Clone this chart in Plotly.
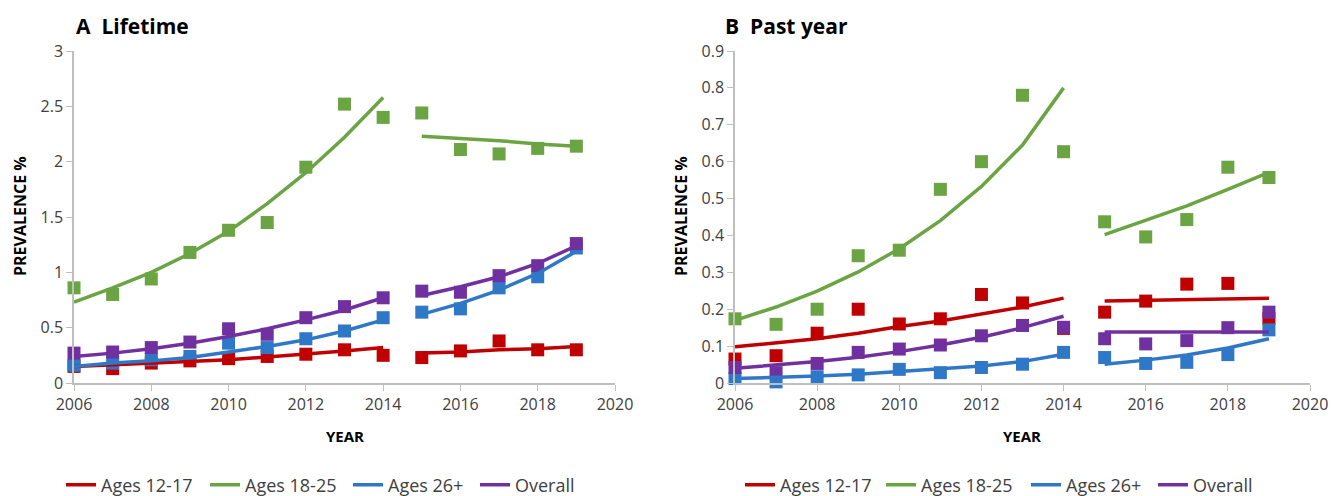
import plotly.graph_objects as go

years = list(range(2006, 2020))
series_names = ["Ages 12-17", "Ages 18-25", "Ages 26+", "Overall"]
colors = ["#C00000", "#6AA443", "#2F78C8", "#7030A0"]

# Panel A: Lifetime prevalence (observed points)
a_12_17 = [0.15, 0.13, 0.18, 0.20, 0.22, 0.24, 0.26, 0.30, 0.25, 0.23, 0.29, 0.38, 0.30, 0.30]
a_18_25 = [0.86, 0.80, 0.94, 1.18, 1.38, 1.45, 1.95, 2.52, 2.40, 2.44, 2.11, 2.07, 2.12, 2.14]
a_26p = [0.16, 0.18, 0.21, 0.24, 0.36, 0.32, 0.40, 0.47, 0.59, 0.64, 0.67, 0.86, 0.96, 1.22]
a_all = [0.27, 0.28, 0.32, 0.37, 0.49, 0.44, 0.59, 0.69, 0.77, 0.83, 0.82, 0.97, 1.06, 1.26]
# Panel A trend lines
a_12_17_t = [0.15, 0.165, 0.18, 0.195, 0.21, 0.235, 0.26, 0.29, 0.32, 0.27, 0.28, 0.30, 0.31, 0.33]
a_18_25_t = [0.73, 0.86, 1.00, 1.17, 1.37, 1.62, 1.90, 2.22, 2.58, 2.23, 2.21, 2.19, 2.16, 2.14]
a_26p_t = [0.15, 0.18, 0.20, 0.23, 0.28, 0.33, 0.39, 0.47, 0.57, 0.62, 0.72, 0.84, 0.99, 1.19]
a_all_t = [0.24, 0.27, 0.31, 0.36, 0.42, 0.49, 0.57, 0.66, 0.77, 0.79, 0.87, 0.96, 1.08, 1.24]

# Panel B: Past year prevalence (observed points)
b_12_17 = [0.065, 0.074, 0.135, 0.20, 0.16, 0.174, 0.24, 0.217, 0.148, 0.192, 0.222, 0.268, 0.27, 0.175]
b_18_25 = [0.174, 0.159, 0.20, 0.345, 0.36, 0.525, 0.60, 0.78, 0.627, 0.437, 0.396, 0.443, 0.585, 0.557]
b_26p = [0.012, 0.003, 0.017, 0.022, 0.037, 0.028, 0.042, 0.051, 0.083, 0.069, 0.053, 0.056, 0.077, 0.144]
b_all = [0.042, 0.028, 0.053, 0.083, 0.092, 0.103, 0.128, 0.156, 0.151, 0.12, 0.106, 0.115, 0.15, 0.192]
# Panel B trend lines
b_12_17_t = [0.098, 0.11, 0.12, 0.135, 0.153, 0.168, 0.186, 0.206, 0.23, 0.222, 0.224, 0.226, 0.228, 0.23]
b_18_25_t = [0.17, 0.206, 0.249, 0.301, 0.364, 0.44, 0.533, 0.645, 0.80, 0.402, 0.44, 0.48, 0.525, 0.571]
b_26p_t = [0.012, 0.015, 0.019, 0.024, 0.031, 0.038, 0.046, 0.058, 0.078, 0.051, 0.062, 0.076, 0.095, 0.12]
b_all_t = [0.040, 0.048, 0.058, 0.070, 0.085, 0.103, 0.124, 0.150, 0.181, 0.138, 0.138, 0.138, 0.138, 0.138]

panel_titles = ["A  Lifetime", "B  Past year"]
y_title = "PREVALENCE %"
x_title = "YEAR"

# the page body margin is removed by a small post script, so the figure fills the window
W, H = 1331, 496

def px(x):
    return x / W

def py(y):
    return 1 - y / H

fig = go.Figure()

def gap(v):
    return v[:9] + [None] + v[9:]

# legend slot start (line start, window px) for each series in each panel
leg_x_a = [68, 212, 355, 482]
leg_x_b = [747, 888, 1033, 1160]

panels = [
    ("x", "y", [a_12_17, a_18_25, a_26p, a_all], [a_12_17_t, a_18_25_t, a_26p_t, a_all_t], leg_x_a, 1),
    ("x2", "y2", [b_12_17, b_18_25, b_26p, b_all], [b_12_17_t, b_18_25_t, b_26p_t, b_all_t], leg_x_b, 5),
]

leg_font = dict(family="Open Sans", size=18, color="#404040")
leg_y = py(485)
legends = {}
for xa, ya, pts, trends, legx, lstart in panels:
    for name, col, p in zip(series_names, colors, pts):
        fig.add_trace(go.Scatter(
            x=years, y=p, mode="markers", xaxis=xa, yaxis=ya,
            marker=dict(symbol="square", size=13, color=col),
            showlegend=False, cliponaxis=False, hoverinfo="skip"))
    for i, (name, col, t) in enumerate(zip(series_names, colors, trends)):
        lid = "legend" if lstart + i == 1 else "legend%d" % (lstart + i)
        fig.add_trace(go.Scatter(
            x=gap(years), y=gap(t), mode="lines", xaxis=xa, yaxis=ya,
            line=dict(color=col, width=3.5), connectgaps=False,
            name=name, legend=lid, showlegend=True))
        legends[lid] = dict(orientation="h", x=px(legx[i] - 7), xanchor="left", y=leg_y,
                            yanchor="middle", font=leg_font, itemwidth=30,
                            bgcolor="rgba(0,0,0,0)")

tick_font = dict(family="Open Sans", size=16, color="#404040")
axis_common = dict(showline=True, linecolor="#BFBFBF", linewidth=1.5, ticks="outside",
                   tickcolor="#BFBFBF", ticklen=6, showgrid=False, zeroline=False,
                   tickfont=tick_font, automargin=False)

ydom = [py(383), py(51)]
fig.update_layout(
    width=W, height=H,
    margin=dict(l=0, r=0, t=0, b=0, autoexpand=False),
    paper_bgcolor="white", plot_bgcolor="white",
    xaxis=dict(domain=[px(74), px(615)], range=[2006, 2020], dtick=2, anchor="y", **axis_common),
    yaxis=dict(domain=ydom, range=[0, 3], dtick=0.5, anchor="x", **axis_common),
    xaxis2=dict(domain=[px(735), px(1310)], range=[2006, 2020], dtick=2, anchor="y2",
                ticklabeloverflow="allow", **axis_common),
    yaxis2=dict(domain=ydom, range=[0, 0.9], dtick=0.1, anchor="x2", tickformat=".1~f", **axis_common),
    **legends,
)

ann = []
ann.append(dict(text="<b>" + panel_titles[0] + "</b>", x=px(74), y=py(26), xref="paper", yref="paper",
                xanchor="left", yanchor="middle", showarrow=False,
                font=dict(family="Open Sans", size=21, color="#000000")))
ann.append(dict(text="<b>" + panel_titles[1] + "</b>", x=px(723), y=py(26), xref="paper", yref="paper",
                xanchor="left", yanchor="middle", showarrow=False,
                font=dict(family="Open Sans", size=21, color="#000000")))
for xc in [20, 681]:
    ann.append(dict(text="<b>" + y_title + "</b>", x=px(xc), y=py(216), xref="paper", yref="paper",
                    xanchor="center", yanchor="middle", textangle=-90, showarrow=False,
                    font=dict(family="Open Sans", size=16, color="#000000")))
for xc in [345, 1022]:
    ann.append(dict(text="<b>" + x_title + "</b>", x=px(xc), y=py(436), xref="paper", yref="paper",
                    xanchor="center", yanchor="middle", showarrow=False,
                    font=dict(family="Open Sans", size=15, color="#000000")))
fig.update_layout(annotations=ann)

fig.write_html("out.html", config={"displayModeBar": False},
               post_script="document.body.style.margin='0';document.documentElement.style.overflow='hidden';")
